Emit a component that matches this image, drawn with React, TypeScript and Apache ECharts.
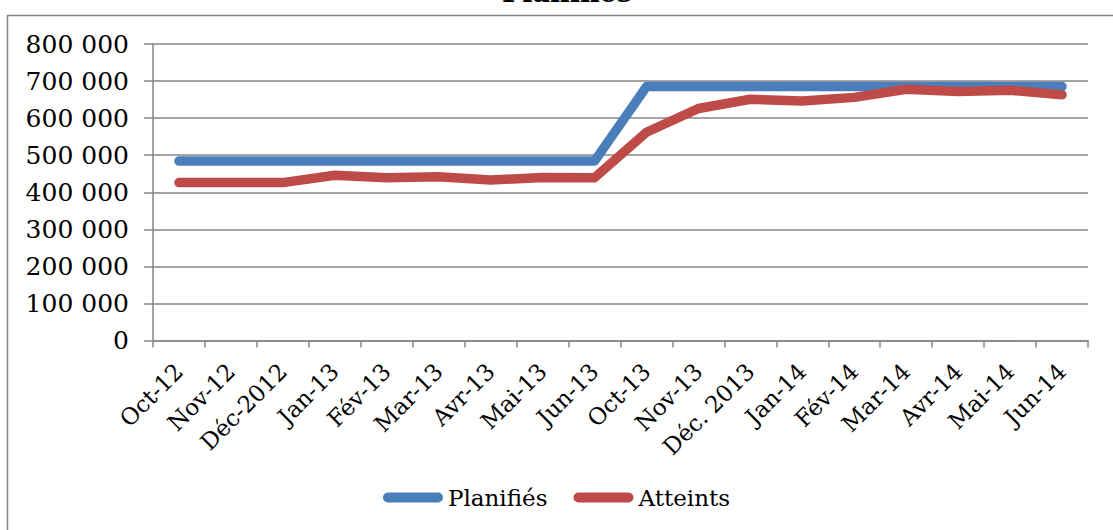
import React, { useEffect, useRef } from "react";
import * as echarts from "echarts";

// Monthly categories (Oct 2012 – Jun 2014)
const months = [
  "Oct-12", "Nov-12", "Déc-2012", "Jan-13", "Fév-13", "Mar-13", "Avr-13", "Mai-13", "Jun-13",
  "Oct-13", "Nov-13", "Déc. 2013", "Jan-14", "Fév-14", "Mar-14", "Avr-14", "Mai-14", "Jun-14",
];

// Planned values
const planifies = [
  484000, 484000, 484000, 484000, 484000, 484000, 484000, 484000, 484000,
  685000, 685000, 685000, 685000, 685000, 685000, 685000, 685000, 685000,
];

// Achieved values
const atteints = [
  426000, 426000, 426000, 446000, 439000, 442000, 433000, 440000, 439000,
  562000, 626000, 651000, 646000, 656000, 678000, 672000, 675000, 663000,
];

const seriesNames = ["Planifiés", "Atteints"];
const titleText = "Planifiés";

const FONT = "'DejaVu Serif', 'Liberation Serif', serif";
const GRID_GRAY = "#868686";

const fmt = (v: number) => {
  if (v === 0) return "0";
  const s = String(Math.round(v));
  return s.replace(/\B(?=(\d{3})+(?!\d))/g, " ");
};

const pill = "path://M5,0 L55,0 A5,5 0 0 1 55,10 L5,10 A5,5 0 0 1 5,0 Z";

export default function App() {
  const ref = useRef<HTMLDivElement>(null);

  useEffect(() => {
    if (!ref.current) return;
    const chart = echarts.init(ref.current, undefined, { renderer: "svg" });
    chart.setOption({
      animation: false,
      backgroundColor: "#ffffff",
      textStyle: { fontFamily: FONT },
      graphic: [
        {
          type: "rect",
          shape: { x: 7.5, y: 15.5, width: 1200, height: 600 },
          style: { fill: "none", stroke: GRID_GRAY, lineWidth: 1.5 },
          silent: true,
          z: -1,
        },
        {
          type: "text",
          x: 567,
          y: 6,
          style: {
            text: titleText,
            font: `bold 27px ${FONT}`,
            fill: "#000",
            align: "center",
            verticalAlign: "bottom",
          },
        },
      ],
      legend: {
        data: seriesNames,
        bottom: 16,
        left: "center",
        itemWidth: 60,
        itemHeight: 10,
        itemGap: 26,
        icon: pill,
        textStyle: { fontFamily: FONT, fontSize: 23, color: "#000" },
      },
      grid: { left: 153, right: 25, top: 44, bottom: 189.5 },
      xAxis: {
        type: "category",
        data: months,
        boundaryGap: true,
        axisLine: { lineStyle: { color: GRID_GRAY, width: 1.5 } },
        axisTick: { show: true, length: 7, lineStyle: { color: GRID_GRAY, width: 1.5 } },
        axisLabel: {
          rotate: 45,
          interval: 0,
          margin: 27,
          fontFamily: FONT,
          fontSize: 23,
          color: "#000",
        },
      },
      yAxis: {
        type: "value",
        min: 0,
        max: 800000,
        interval: 100000,
        axisLine: { show: true, lineStyle: { color: GRID_GRAY, width: 1.5 } },
        axisTick: { show: true, length: 9, lineStyle: { color: GRID_GRAY, width: 1.5 } },
        splitLine: { lineStyle: { color: GRID_GRAY, width: 1.5 } },
        axisLabel: {
          margin: 24,
          fontFamily: FONT,
          fontSize: 25,
          color: "#000",
          formatter: fmt,
        },
      },
      series: [
        {
          name: seriesNames[0],
          type: "line",
          data: planifies,
          symbol: "none",
          color: "#4a7ebb",
          lineStyle: { width: 9.5, color: "#4a7ebb", cap: "round", join: "round" },
          z: 2,
        },
        {
          name: seriesNames[1],
          type: "line",
          data: atteints,
          symbol: "none",
          color: "#be4b48",
          lineStyle: { width: 9.5, color: "#be4b48", cap: "round", join: "round" },
          z: 3,
        },
      ],
    });
    return () => chart.dispose();
  }, []);

  return (
    <div
      ref={ref}
      style={{ position: "fixed", left: 0, top: 0, width: 1113, height: 530 }}
    />
  );
}
